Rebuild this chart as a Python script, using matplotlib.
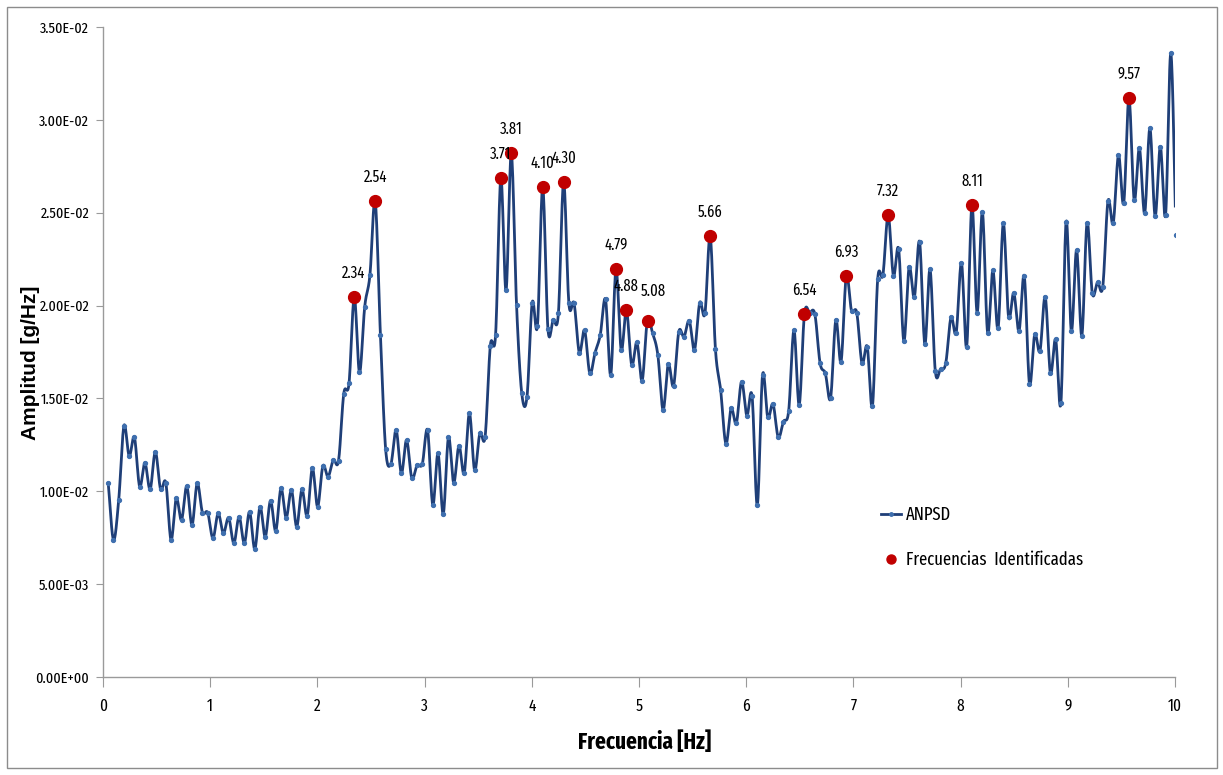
import numpy as np
import matplotlib
matplotlib.use("Agg")
import matplotlib.pyplot as plt
from matplotlib.patches import Rectangle
from matplotlib.lines import Line2D

NARROW = ["Fira Sans Extra Condensed", "Fira Sans Condensed", "DejaVu Sans"]
WIDE = ["Liberation Sans", "DejaVu Sans"]

# Averaged normalized PSD, frequency resolution 50/1024 Hz
df = 50.0 / 1024.0
anpsd = [
    0.01043, 0.00738, 0.00953, 0.01353, 0.01190, 0.01290, 0.01025, 0.01154, 0.01010, 0.01213,
    0.01010, 0.01046, 0.00738, 0.00962, 0.00845, 0.01028, 0.00818, 0.01043, 0.00885, 0.00885,
    0.00747, 0.00881, 0.00774, 0.00858, 0.00720, 0.00863, 0.00720, 0.00890, 0.00688, 0.00917,
    0.00755, 0.00950, 0.00786, 0.01016, 0.00858, 0.01007, 0.00809, 0.01010, 0.00867, 0.01124,
    0.00917, 0.01136, 0.01079, 0.01168, 0.01165, 0.01526, 0.01581, 0.02048, 0.01640, 0.01994,
    0.02165, 0.02565, 0.01842, 0.01226, 0.01147, 0.01330, 0.01097, 0.01276, 0.01070, 0.01142,
    0.01147, 0.01330, 0.00926, 0.01204, 0.00878, 0.01291, 0.01046, 0.01246, 0.01097, 0.01420,
    0.01113, 0.01314, 0.01294, 0.01785, 0.01842, 0.02685, 0.02082, 0.02820, 0.02005, 0.01528,
    0.01508, 0.02016, 0.01892, 0.02638, 0.01876, 0.01922, 0.01958, 0.02667, 0.02012, 0.02012,
    0.01746, 0.01868, 0.01635, 0.01746, 0.01842, 0.02034, 0.01626, 0.02195, 0.01761, 0.01976,
    0.01680, 0.01802, 0.01596, 0.01919, 0.01851, 0.01734, 0.01438, 0.01685, 0.01567, 0.01859,
    0.01832, 0.01919, 0.01761, 0.02016, 0.01958, 0.02375, 0.01766, 0.01545, 0.01256, 0.01446,
    0.01367, 0.01591, 0.01408, 0.01513, 0.00926, 0.01626, 0.01398, 0.01470, 0.01291, 0.01375,
    0.01434, 0.01868, 0.01465, 0.01953, 0.01962, 0.01953, 0.01689, 0.01635, 0.01501, 0.01922,
    0.01698, 0.02159, 0.01972, 0.01962, 0.01689, 0.01779, 0.01459, 0.02141, 0.02165, 0.02488,
    0.02161, 0.02305, 0.01809, 0.02206, 0.02045, 0.02344, 0.01793, 0.02195, 0.01649, 0.01657,
    0.01689, 0.01937, 0.01854, 0.02231, 0.01779, 0.02540, 0.01962, 0.02504, 0.01854, 0.02190,
    0.01878, 0.02443, 0.01940, 0.02069, 0.01863, 0.02159, 0.01578, 0.01845, 0.01755, 0.02048,
    0.01635, 0.01818, 0.01474, 0.02452, 0.01863, 0.02299, 0.01838, 0.02446, 0.02066, 0.02125,
    0.02102, 0.02563, 0.02443, 0.02811, 0.02551, 0.03120, 0.02569, 0.02847, 0.02497, 0.02955,
    0.02482, 0.02856, 0.02488, 0.03358, 0.02380,
]
freq = df * np.arange(1, len(anpsd) + 1)

# Identified frequencies (peak picking)
peak_freq = [2.34, 2.54, 3.71, 3.81, 4.10, 4.30, 4.79, 4.88, 5.08, 5.66, 6.54, 6.93, 7.32, 8.11, 9.57]
peak_amp = [0.02048, 0.02565, 0.02685, 0.02820, 0.02638, 0.02667, 0.02195, 0.01976, 0.01919,
            0.02375, 0.01953, 0.02159, 0.02488, 0.02540, 0.03120]

y_ticks = [0.0, 0.005, 0.010, 0.015, 0.020, 0.025, 0.030, 0.035]
y_ticklabels = ["0.00E+00", "5.00E-03", "1.00E-02", "1.50E-02", "2.00E-02",
                "2.50E-02", "3.00E-02", "3.50E-02"]
x_ticks = list(range(0, 11))


def smooth_curve(x, y, n=14):
    """Catmull-Rom smoothing through every point (spreadsheet-style smoothed line)."""
    x = np.asarray(x, float)
    y = np.asarray(y, float)
    px = np.concatenate([[2 * x[0] - x[1]], x, [2 * x[-1] - x[-2]]])
    py = np.concatenate([[2 * y[0] - y[1]], y, [2 * y[-1] - y[-2]]])
    t = np.linspace(0, 1, n, endpoint=False)
    t2, t3 = t * t, t * t * t
    xs, ys = [], []
    for i in range(1, len(px) - 2):
        for p, out in ((px, xs), (py, ys)):
            p0, p1, p2, p3 = p[i - 1], p[i], p[i + 1], p[i + 2]
            out.append(0.5 * (2 * p1 + (-p0 + p2) * t
                              + (2 * p0 - 5 * p1 + 4 * p2 - p3) * t2
                              + (-p0 + 3 * p1 - 3 * p2 + p3) * t3))
    xs.append([x[-1]])
    ys.append([y[-1]])
    return np.concatenate(xs), np.concatenate(ys)


fig = plt.figure(figsize=(12.23, 7.75), dpi=100)
ax = fig.add_axes([103 / 1223, 1 - 677 / 775, (1175 - 103) / 1223, (677 - 27) / 775])

line_color = "#1f3f78"
sx, sy = smooth_curve(freq, anpsd)
ax.plot(sx, sy, color=line_color, lw=2.0, solid_joinstyle="round", zorder=3)
ax.plot(freq, anpsd, ls="none", marker="o", ms=2.8, mfc="#3f6fae", mec="#3f6fae", zorder=4)

ax.plot(peak_freq, peak_amp, ls="none", marker="o", ms=8.5, mfc="#c00000", mec="#c00000", zorder=5)
for f, a in zip(peak_freq, peak_amp):
    dx, dy = 0, 17
    if f == 5.08:
        dx, dy = 4, 21
    ax.annotate(f"{f:.2f}", (f, a), xytext=(dx, dy), textcoords="offset points",
                ha="center", va="center", fontsize=11.5, family=NARROW, color="black", zorder=6)

ax.set_xlim(0, 10)
ax.set_ylim(0, 0.035)
ax.set_xticks(x_ticks)
ax.set_xticklabels([str(v) for v in x_ticks], fontsize=12, family=NARROW)
ax.set_yticks(y_ticks)
ax.set_yticklabels(y_ticklabels, fontsize=11, family=NARROW)

for side in ("top", "right"):
    ax.spines[side].set_visible(False)
for side in ("left", "bottom"):
    ax.spines[side].set_color("#9a9a9a")
    ax.spines[side].set_linewidth(1.0)
ax.tick_params(axis="y", direction="out", length=5, color="#9a9a9a", pad=5)
ax.tick_params(axis="x", direction="out", length=7, color="#9a9a9a", pad=8)

ax.set_xlabel("Frecuencia [Hz]", fontsize=16.5, fontweight="bold", family=NARROW)
ax.xaxis.set_label_coords(0.5056, -0.083)
ax.set_ylabel("Amplitud [g/Hz]", fontsize=15, fontweight="bold", family=WIDE)
ax.yaxis.set_label_coords(-0.059, 0.483)

handles = [
    Line2D([], [], color=line_color, lw=2, marker="o", ms=2.5, mfc="#3f6fae", mec="#3f6fae"),
    Line2D([], [], ls="none", marker="o", ms=6.5, mfc="#c00000", mec="#c00000"),
]
ax.legend(handles, ["ANPSD", "Frecuencias  Identificadas"], loc="upper left",
          bbox_to_anchor=(0.726, 0.263), frameon=False, borderpad=0, borderaxespad=0,
          handlelength=1.1, handletextpad=0.25, labelspacing=1.5,
          prop={"family": NARROW, "size": 13})

fig.patches.append(Rectangle((7 / 1223, 7 / 775), 1210 / 1223, 761 / 775,
                             transform=fig.transFigure, fill=False,
                             edgecolor="#8c8c8c", lw=1.0))

fig.savefig("out.png", dpi=100)
